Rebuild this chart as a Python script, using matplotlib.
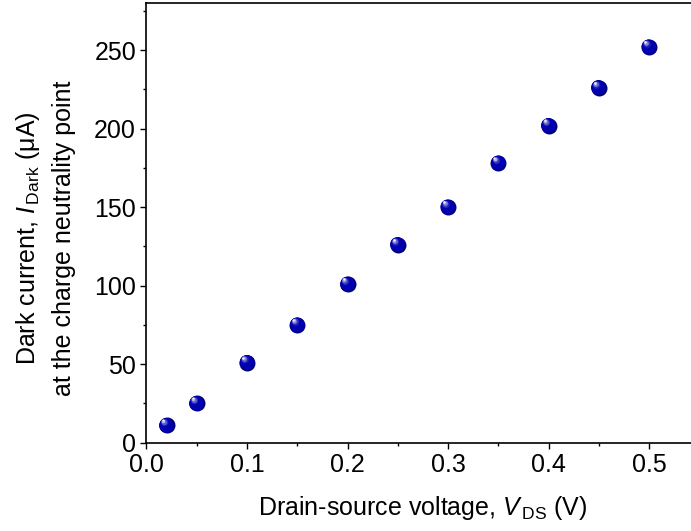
import numpy as np
import matplotlib.pyplot as plt
from matplotlib import transforms
from matplotlib.colors import to_rgb

plt.rcParams['font.family'] = ['Liberation Sans', 'DejaVu Sans']
plt.rcParams['mathtext.fontset'] = 'custom'
plt.rcParams['mathtext.rm'] = 'Liberation Sans'
plt.rcParams['mathtext.it'] = 'Liberation Sans:italic'

# データ
vds = [0.02, 0.05, 0.10, 0.15, 0.20, 0.25, 0.30, 0.35, 0.40, 0.45, 0.50]
i_dark = [11, 25, 51, 75, 101, 126, 150, 178, 202, 226, 252]

xticks = [0.0, 0.1, 0.2, 0.3, 0.4, 0.5]
yticks = [0, 50, 100, 150, 200, 250]

fig = plt.figure(figsize=(6.91, 5.31), dpi=100)
ax = fig.add_axes([0.212, 0.1663, 0.800, 0.828])

# 球っぽいマーカー（色を重ねて描く）
d = 11.5
dark = np.array(to_rgb('#00006e'))
body = np.array(to_rgb('#0000b0'))
light = np.array(to_rgb('#f0f0ff'))
layers = np.linspace(1.0, 0.12, 14)
for f in layers:
    t = 1 - f
    if t < 0.45:
        c = dark + (body - dark) * min(1, t / 0.12)
    else:
        c = body + (light - body) * ((t - 0.45) / 0.43) ** 1.5
    off = transforms.offset_copy(ax.transData, fig=fig,
                                 x=-t * 0.28 * d, y=t * 0.36 * d, units='points')
    ax.scatter(vds, i_dark, s=(d * f) ** 2, color=c, linewidths=0,
               transform=off, zorder=3, clip_on=False)

ax.set_xlim(0, 0.55)
ax.set_ylim(0, 280)
ax.set_xticks(xticks)
ax.set_yticks(yticks)
ax.set_xticks(np.arange(0.05, 0.55, 0.1), minor=True)
ax.set_yticks(np.arange(25, 280, 50), minor=True)
ax.set_xticklabels(['%.1f' % v for v in xticks])
ax.tick_params(which='major', direction='out', length=4.5, width=1, labelsize=18, pad=3)
ax.tick_params(which='minor', direction='out', length=2.5, width=1)
for s in ax.spines.values():
    s.set_linewidth(1.2)

ax.set_xlabel('Drain-source voltage, $\\it{V}_{\\,\\rm DS}$ (V)', fontsize=18, labelpad=12)

fig.text(0.041, 0.552, 'Dark current, $\\it{I}_{\\,\\rm Dark}$ ($\\rm\\mu$A)',
         rotation=90, ha='center', va='center', fontsize=18)
fig.text(0.093, 0.552, 'at the charge neutrality point',
         rotation=90, ha='center', va='center', fontsize=18)

plt.savefig('out.png', dpi=100)
